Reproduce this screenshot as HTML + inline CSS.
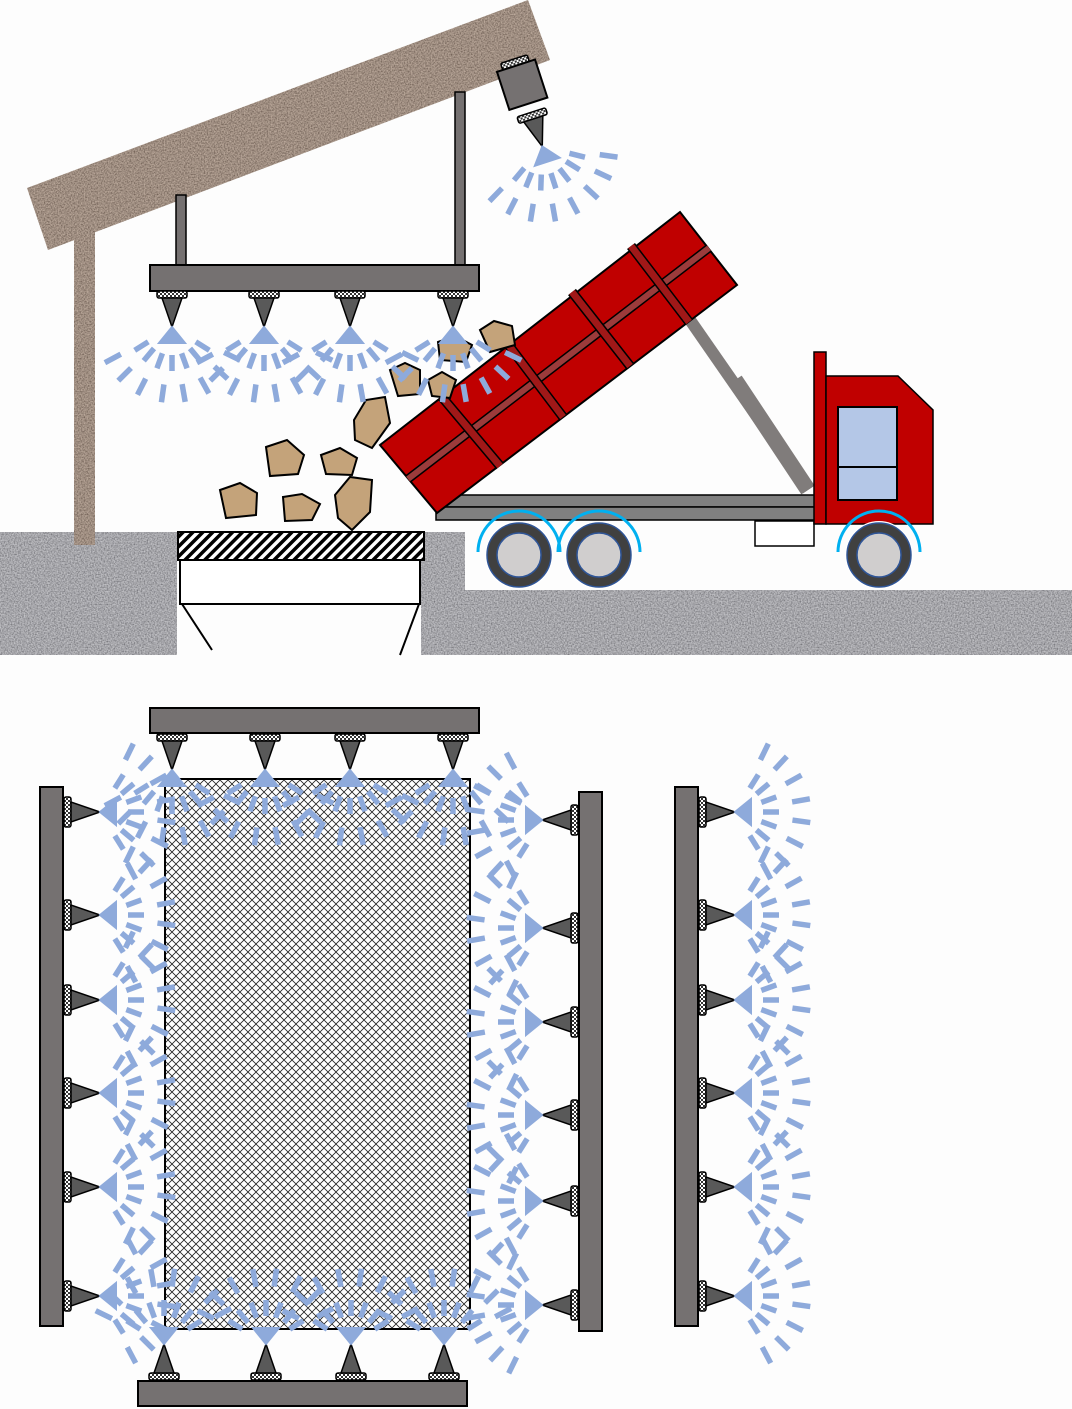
<!DOCTYPE html>
<html><head><meta charset="utf-8"><style>
html,body{margin:0;padding:0;background:#fdfdfd;}
svg{display:block;}
</style></head><body>
<svg id="s" width="1072" height="1409" viewBox="0 0 1072 1409" xmlns="http://www.w3.org/2000/svg">
<defs>
<pattern id="chk" width="4" height="4" patternUnits="userSpaceOnUse"><rect width="4" height="4" fill="#fff"/><rect width="2" height="2" fill="#333"/><rect x="2" y="2" width="2" height="2" fill="#333"/></pattern>
<pattern id="xh" width="8" height="8" patternUnits="userSpaceOnUse"><rect width="8" height="8" fill="#fff"/><path d="M0 0L8 8M8 0L0 8" stroke="#222" stroke-width="0.8"/></pattern>
<pattern id="hatch" width="7" height="7" patternUnits="userSpaceOnUse" patternTransform="rotate(45)"><rect width="7" height="7" fill="#fff"/><rect width="3.5" height="7" fill="#000"/></pattern>
<filter id="gr" x="0" y="0" width="100%" height="100%"><feTurbulence type="fractalNoise" baseFrequency="0.7" numOctaves="2" seed="3"/><feColorMatrix type="matrix" values="0 0 0 0 0.3  0 0 0 0 0.3  0 0 0 0 0.32  0 0 0 1.6 -0.35"/><feComposite in2="SourceGraphic" operator="in"/><feBlend in2="SourceGraphic" mode="multiply"/></filter>
<filter id="rf" x="0" y="0" width="100%" height="100%"><feTurbulence type="fractalNoise" baseFrequency="0.7" numOctaves="2" seed="5"/><feColorMatrix type="matrix" values="0 0 0 0 0.3  0 0 0 0 0.26  0 0 0 0 0.24  0 0 0 1.6 -0.35"/><feComposite in2="SourceGraphic" operator="in"/><feBlend in2="SourceGraphic" mode="multiply"/></filter>
</defs>
<rect width="1072" height="1409" fill="#fdfdfd"/>
<g filter="url(#gr)">
<rect x="0" y="532" width="177" height="123" fill="#c4c4c8"/>
<rect x="421" y="532" width="44" height="123" fill="#c4c4c8"/>
<rect x="465" y="590" width="607" height="65" fill="#c4c4c8"/>
</g>
<g filter="url(#rf)">
<polygon points="27,188 528,0 550,60 48,250" fill="#bcaa9c"/>
<rect x="74" y="225" width="21" height="320" fill="#bcaa9c"/>
</g>
<rect x="176" y="195" width="10" height="72" fill="#757171" stroke="#000" stroke-width="1.5"/>
<rect x="455" y="92" width="10" height="175" fill="#757171" stroke="#000" stroke-width="1.5"/>
<rect x="150" y="265" width="329" height="26" fill="#757171" stroke="#000" stroke-width="2"/>
<rect x="178" y="532" width="246" height="28" fill="url(#hatch)" stroke="#000" stroke-width="2"/>
<rect x="180" y="560" width="240" height="44" fill="#fff" stroke="#000" stroke-width="2"/>
<path d="M182 604L212 650M419 604L400 655" stroke="#000" stroke-width="2"/>
<line x1="690" y1="320" x2="808" y2="490" stroke="#807c7b" stroke-width="12"/>
<line x1="735" y1="380" x2="808" y2="490" stroke="#807c7b" stroke-width="16"/>
<rect x="436" y="495" width="380" height="12" fill="#808080" stroke="#000" stroke-width="1.5"/>
<rect x="436" y="507" width="380" height="13" fill="#808080" stroke="#000" stroke-width="1.5"/>
<rect x="755" y="521" width="59" height="25" fill="#fff" stroke="#000" stroke-width="1.5"/>
<g>
<polygon points="380,445 680,212 737,285 437,513" fill="#c00000" stroke="#000" stroke-width="2"/>
<line x1="408" y1="479" x2="709" y2="248" stroke="#000" stroke-width="9"/>
<line x1="408" y1="479" x2="709" y2="248" stroke="#9b3b3b" stroke-width="6"/>
<g stroke="#000" stroke-width="10"><line x1="442" y1="397" x2="500" y2="466"/><line x1="507" y1="343" x2="563" y2="417"/><line x1="572" y1="292" x2="630" y2="366"/><line x1="631" y1="246" x2="689" y2="322"/></g>
<g stroke="#a01818" stroke-width="7"><line x1="442" y1="397" x2="500" y2="466"/><line x1="507" y1="343" x2="563" y2="417"/><line x1="572" y1="292" x2="630" y2="366"/><line x1="631" y1="246" x2="689" y2="322"/></g>
</g>
<rect x="814" y="352" width="12" height="172" fill="#c00000" stroke="#000" stroke-width="1.5"/>
<polygon points="826,376 898,376 933,410 933,524 826,524" fill="#c00000" stroke="#000" stroke-width="1.5"/>
<rect x="838" y="407" width="59" height="93" fill="#b4c7e7" stroke="#000" stroke-width="2"/>
<line x1="838" y1="467" x2="897" y2="467" stroke="#000" stroke-width="2"/>
<g fill="none" stroke="#00b0f0" stroke-width="3">
<path d="M478 552A41 41 0 0 1 560 552"/><path d="M558 552A41 41 0 0 1 640 552"/><path d="M838 552A41 41 0 0 1 920 552"/>
</g>
<g stroke="#2f5597" stroke-width="1.5">
<circle cx="519" cy="555" r="34" fill="#fff" stroke="none"/><circle cx="599" cy="555" r="34" fill="#fff" stroke="none"/><circle cx="879" cy="555" r="34" fill="#fff" stroke="none"/>
<circle cx="519" cy="555" r="32" fill="#404040"/><circle cx="519" cy="555" r="22" fill="#d0cece"/>
<circle cx="599" cy="555" r="32" fill="#404040"/><circle cx="599" cy="555" r="22" fill="#d0cece"/>
<circle cx="879" cy="555" r="32" fill="#404040"/><circle cx="879" cy="555" r="22" fill="#d0cece"/>
</g>
<g fill="#c4a37a" stroke="#000" stroke-width="2">
<polygon points="220,490 240,483 257,493 256,515 226,518"/>
<polygon points="266,447 287,440 304,455 298,474 270,476"/>
<polygon points="321,455 340,448 357,458 352,475 326,474"/>
<polygon points="283,497 302,494 320,504 312,520 285,521"/>
<polygon points="335,495 350,477 372,480 370,512 352,530 338,518"/>
<polygon points="354,420 366,400 385,397 390,423 372,448 355,440"/>
<polygon points="390,370 405,363 420,370 420,394 398,396"/>
<polygon points="438,342 455,336 472,345 466,362 440,360"/>
<polygon points="480,330 494,321 512,326 515,345 490,352"/>
<polygon points="428,380 442,372 456,380 450,398 432,396"/>
</g>
<g id="noz"></g>
<rect x="165" y="779" width="305" height="550" fill="url(#xh)" stroke="#000" stroke-width="2"/>
<rect x="150" y="708" width="329" height="25" fill="#757171" stroke="#000" stroke-width="2"/>
<rect x="138" y="1381" width="329" height="25" fill="#757171" stroke="#000" stroke-width="2"/>
<rect x="40" y="787" width="23" height="539" fill="#757171" stroke="#000" stroke-width="2"/>
<rect x="579" y="792" width="23" height="539" fill="#757171" stroke="#000" stroke-width="2"/>
<rect x="675" y="787" width="23" height="539" fill="#757171" stroke="#000" stroke-width="2"/>
<g id="noz2"></g>
</svg>
<script>
var NS="http://www.w3.org/2000/svg";
function el(p,t,a){var e=document.createElementNS(NS,t);for(var k in a)e.setAttribute(k,a[k]);p.appendChild(e);return e;}
function nozzle(par,x,y,rot,body){
 var g=el(par,"g",{transform:"translate("+x+","+y+") rotate("+rot+")"});
 var L=30;
 if(body){el(g,"rect",{x:-14,y:-62,width:28,height:7,rx:2,fill:"url(#chk)",stroke:"#000","stroke-width":1.5});
  el(g,"rect",{x:-20,y:-55,width:40,height:40,fill:"#757171",stroke:"#000","stroke-width":2});}
 el(g,"rect",{x:-15,y:-6,width:30,height:7,rx:2,fill:"url(#chk)",stroke:"#000","stroke-width":1.5});
 el(g,"polygon",{points:"-10,1 10,1 0,"+L,fill:"#595959",stroke:"#000","stroke-width":1.5});
 var s=el(g,"g",{stroke:"#8eaadb","stroke-width":5.5,fill:"none"});
 el(s,"polygon",{points:"0,"+L+" -13,"+(L+16)+" 13,"+(L+16),fill:"#8eaadb",stroke:"#8eaadb","stroke-width":2});
 var rings=[[28,44,[-58,-40,-20,0,20,40,58]],[58,76,[-62,-45,-27,-8,10,29,47,64]]];
 rings.forEach(function(r){r[2].forEach(function(a){var t=a*Math.PI/180,sn=Math.sin(t),c=Math.cos(t);
  el(s,"line",{x1:r[0]*sn,y1:L+r[0]*c,x2:r[1]*sn,y2:L+r[1]*c});});});
}
var n=document.getElementById("noz"),n2=document.getElementById("noz2");
[172,264,350,453].forEach(function(x){nozzle(n,x,297,0);});
nozzle(n,533,118,-18,true);
[172,265,350,453].forEach(function(x){nozzle(n2,x,740,0);});
[164,266,351,444].forEach(function(x){nozzle(n2,x,1374,180);});
[812,915,1000,1093,1187,1296].forEach(function(y){nozzle(n2,70,y,-90);nozzle(n2,705,y,-90);});
[820,928,1022,1115,1201,1305].forEach(function(y){nozzle(n2,572,y,90);});
</script>
</body></html>
